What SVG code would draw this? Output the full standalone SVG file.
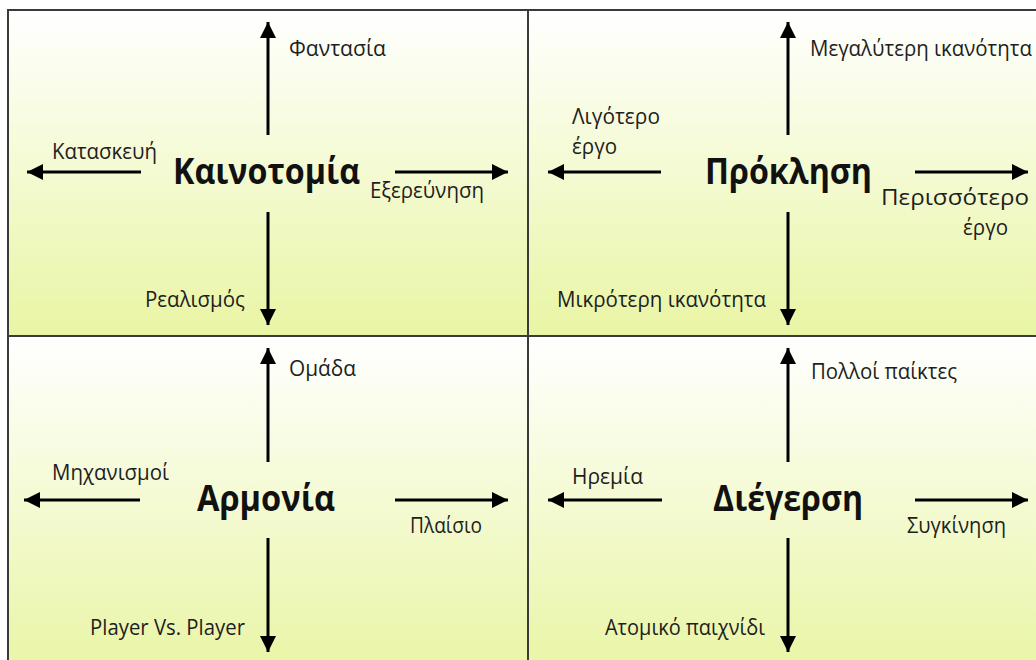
<svg xmlns="http://www.w3.org/2000/svg" width="1036" height="660" viewBox="0 0 1036 660">
  <style>
    .cell { stroke: #3a3a3a; stroke-width: 2; }
    .title { font-family: "Open Sans", "Noto Sans", sans-serif; font-weight: 700; font-size: 35px; fill: #111; }
    .lbl { font-family: "Open Sans", "Noto Sans", sans-serif; font-size: 21px; fill: #1e1e1e; }
    .arr { stroke: #000; stroke-width: 3; fill: none; marker-end: url(#head); }
  </style>
  <defs>
    <linearGradient id="fade" x1="0" y1="0" x2="0" y2="1">
      <stop offset="0" stop-color="#ffffff"/>
      <stop offset="1" stop-color="#e9f5a4"/>
    </linearGradient>
    <marker id="head" markerUnits="userSpaceOnUse" markerWidth="18" markerHeight="18" refX="16" refY="8" orient="auto">
      <path d="M0,0 L16,8 L0,16 Z" fill="#000"/>
    </marker>
  </defs>

  <rect x="0" y="0" width="1036" height="660" fill="#ffffff"/>

  <!-- four quadrants -->
  <g id="q-innovation">
    <rect class="cell" x="8" y="10" width="520" height="326" fill="url(#fade)"/>
    <text class="title" x="173" y="184" textLength="187" lengthAdjust="spacingAndGlyphs">Καινοτομία</text>
    <text class="lbl" x="289" y="56" textLength="97" lengthAdjust="spacingAndGlyphs">Φαντασία</text>
    <text class="lbl" x="52" y="159" textLength="105" lengthAdjust="spacingAndGlyphs">Κατασκευή</text>
    <text class="lbl" x="370" y="198" textLength="114" lengthAdjust="spacingAndGlyphs">Εξερεύνηση</text>
    <text class="lbl" x="145" y="307" textLength="100" lengthAdjust="spacingAndGlyphs">Ρεαλισμός</text>
  </g>

  <g id="q-challenge">
    <rect class="cell" x="528" y="10" width="530" height="326" fill="url(#fade)"/>
    <text class="title" x="705" y="184" textLength="167" lengthAdjust="spacingAndGlyphs">Πρόκληση</text>
    <text class="lbl" x="810" y="56" textLength="222" lengthAdjust="spacingAndGlyphs">Μεγαλύτερη ικανότητα</text>
    <text class="lbl" x="572" y="124" textLength="88" lengthAdjust="spacingAndGlyphs">Λιγότερο</text>
    <text class="lbl" x="572" y="154" textLength="45" lengthAdjust="spacingAndGlyphs">έργο</text>
    <text class="lbl" x="881" y="205" textLength="148" lengthAdjust="spacingAndGlyphs">Περισσότερο</text>
    <text class="lbl" x="963" y="235" textLength="45" lengthAdjust="spacingAndGlyphs">έργο</text>
    <text class="lbl" x="557" y="307" textLength="209" lengthAdjust="spacingAndGlyphs">Μικρότερη ικανότητα</text>
  </g>

  <g id="q-harmony">
    <rect class="cell" x="8" y="336" width="520" height="340" fill="url(#fade)"/>
    <text class="title" x="197" y="511" textLength="138" lengthAdjust="spacingAndGlyphs">Αρμονία</text>
    <text class="lbl" x="289" y="376" textLength="67" lengthAdjust="spacingAndGlyphs">Ομάδα</text>
    <text class="lbl" x="52" y="480" textLength="117" lengthAdjust="spacingAndGlyphs">Μηχανισμοί</text>
    <text class="lbl" x="410" y="533" textLength="72" lengthAdjust="spacingAndGlyphs">Πλαίσιο</text>
    <text class="lbl" x="90" y="635" textLength="155" lengthAdjust="spacingAndGlyphs">Player Vs. Player</text>
  </g>

  <g id="q-arousal">
    <rect class="cell" x="528" y="336" width="530" height="340" fill="url(#fade)"/>
    <text class="title" x="713" y="511" textLength="150" lengthAdjust="spacingAndGlyphs">Διέγερση</text>
    <text class="lbl" x="811" y="379" textLength="146" lengthAdjust="spacingAndGlyphs">Πολλοί παίκτες</text>
    <text class="lbl" x="572" y="484" textLength="71" lengthAdjust="spacingAndGlyphs">Ηρεμία</text>
    <text class="lbl" x="907" y="533" textLength="99" lengthAdjust="spacingAndGlyphs">Συγκίνηση</text>
    <text class="lbl" x="605" y="635" textLength="160" lengthAdjust="spacingAndGlyphs">Ατομικό παιχνίδι</text>
  </g>

  <!-- axis arrows -->
  <g id="connectors">
    <line class="arr" x1="268" y1="135" x2="268" y2="22"/>
    <line class="arr" x1="268" y1="212" x2="268" y2="325"/>
    <line class="arr" x1="141" y1="172" x2="27" y2="172"/>
    <line class="arr" x1="395" y1="172" x2="508" y2="172"/>

    <line class="arr" x1="788" y1="135" x2="788" y2="22"/>
    <line class="arr" x1="788" y1="212" x2="788" y2="325"/>
    <line class="arr" x1="661" y1="172" x2="548" y2="172"/>
    <line class="arr" x1="915" y1="172" x2="1028" y2="172"/>

    <line class="arr" x1="268" y1="462" x2="268" y2="348"/>
    <line class="arr" x1="268" y1="538" x2="268" y2="652"/>
    <line class="arr" x1="140" y1="500" x2="24" y2="500"/>
    <line class="arr" x1="395" y1="500" x2="508" y2="500"/>

    <line class="arr" x1="788" y1="462" x2="788" y2="348"/>
    <line class="arr" x1="788" y1="538" x2="788" y2="652"/>
    <line class="arr" x1="662" y1="500" x2="548" y2="500"/>
    <line class="arr" x1="915" y1="500" x2="1028" y2="500"/>
  </g>
</svg>
